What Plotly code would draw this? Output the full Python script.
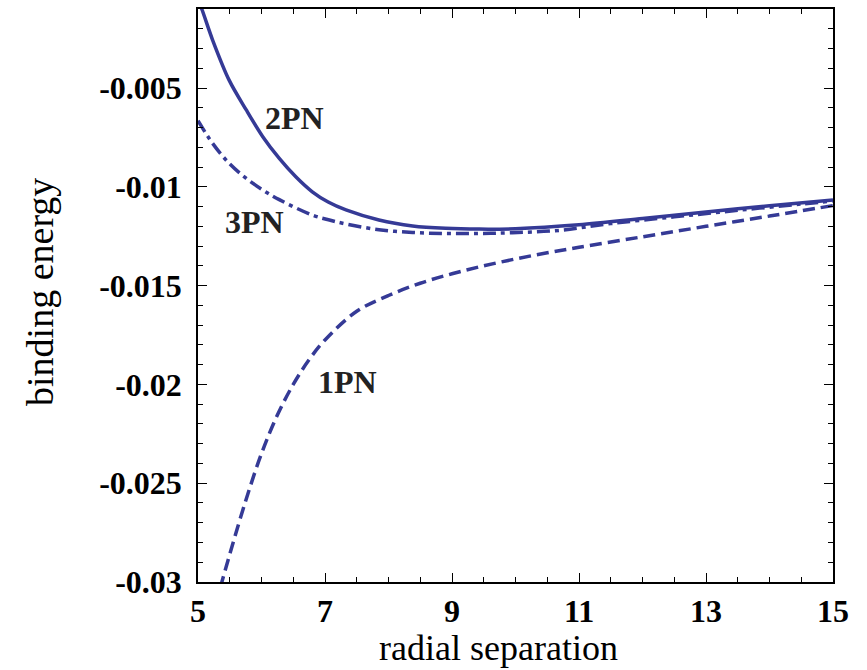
import plotly.graph_objects as go

# ---- data ----
x_2pn = [5.03, 5.06, 5.23, 5.49, 5.76, 6.02, 6.28, 6.54, 6.8, 7.05, 7.33, 7.85, 8.38, 8.9, 9.43, 10.0, 11.0, 12.0, 13.0, 14.0, 15.0]
y_2pn = [-0.0008, -0.00101, -0.00257, -0.0046, -0.00611, -0.00746, -0.00856, -0.00949, -0.01025, -0.01077, -0.01117,
         -0.01168, -0.01198, -0.01210, -0.01214, -0.01212, -0.01192, -0.01160, -0.01127, -0.01096, -0.01067]

x_3pn = [5.0, 5.23, 5.49, 5.76, 6.02, 6.28, 6.8, 7.07, 7.33, 7.85, 8.38, 8.9, 9.43, 9.95, 10.7, 11.5, 12.5, 13.5, 14.5, 15.0]
y_3pn = [-0.00665, -0.0078, -0.00881, -0.00957, -0.01016, -0.01065, -0.01143, -0.01168, -0.01188, -0.01217,
         -0.01231, -0.01236, -0.01236, -0.01232, -0.0122, -0.01186, -0.01152, -0.01119, -0.01087, -0.01072]

x_1pn = [5.35, 5.5, 5.75, 6.0, 6.25, 6.5, 6.75, 7.0, 7.5, 8.0, 8.5, 9.0, 9.5, 10.0, 10.5, 11.0, 12.0, 13.0, 14.0, 15.0]
y_1pn = [-0.0303, -0.0286, -0.0259, -0.0235, -0.02155, -0.0200, -0.01875, -0.01775, -0.0163, -0.0155,
         -0.01488, -0.0144, -0.0140, -0.01365, -0.01334, -0.01306, -0.01253, -0.01200, -0.01148, -0.01095]

labels = ["2PN", "3PN", "1PN"]
label_x = [6.52, 5.89, 7.35]
label_y = [-0.00652, -0.01178, -0.01988]

x_title = "radial separation"
y_title = "binding energy"

x_ticks = [5, 7, 9, 11, 13, 15]
y_ticks = [-0.005, -0.01, -0.015, -0.02, -0.025, -0.03]
y_tick_text = ["-0.005", "-0.01", "-0.015", "-0.02", "-0.025", "-0.03"]

COLOR = "#353a96"
SERIF = "Liberation Serif, Times New Roman, serif"

fig = go.Figure()
fig.add_trace(go.Scatter(x=x_2pn, y=y_2pn, mode="lines", line=dict(color=COLOR, width=3.5, shape="spline", smoothing=0.9)))
fig.add_trace(go.Scatter(x=x_3pn, y=y_3pn, mode="lines", line=dict(color=COLOR, width=3.5, shape="spline", smoothing=1.0,
                                                                    dash="13px,5px,4px,5px")))
fig.add_trace(go.Scatter(x=x_1pn, y=y_1pn, mode="lines", line=dict(color=COLOR, width=3.5, shape="spline", smoothing=1.0,
                                                                    dash="12px,6px")))

for t, lx, ly in zip(labels, label_x, label_y):
    fig.add_annotation(x=lx, y=ly, text="<b>%s</b>" % t, showarrow=False,
                       font=dict(family=SERIF, size=32, color="#222222"))

# axis titles placed as annotations relative to the plot area
fig.add_annotation(xref="paper", yref="paper", x=0.474, y=-0.115, text=x_title, showarrow=False,
                   xanchor="center", yanchor="middle", font=dict(family=SERIF, size=36, color="black"))
fig.add_annotation(xref="paper", yref="paper", x=-0.249, y=0.506, text=y_title, showarrow=False, textangle=-90,
                   xanchor="center", yanchor="middle", font=dict(family=SERIF, size=38, color="black"))

axis_common = dict(showline=True, linecolor="black", linewidth=1.5, mirror="allticks",
                   ticks="inside", tickcolor="black", tickwidth=1.3, ticklen=9,
                   showgrid=False, zeroline=False, automargin=False,
                   tickfont=dict(family=SERIF, size=32, color="black"))

fig.update_xaxes(range=[5, 15], tickvals=x_ticks, ticktext=["<b>%d</b>" % v for v in x_ticks],
                 minor=dict(dtick=0.5, tick0=0, ticks="inside", ticklen=5, tickcolor="black", tickwidth=1),
                 ticklabelstandoff=0, **axis_common)
fig.update_yaxes(range=[-0.03, -0.001], tickvals=y_ticks, ticktext=["<b>%s</b>" % s for s in y_tick_text],
                 minor=dict(dtick=0.001, tick0=0, ticks="inside", ticklen=5, tickcolor="black", tickwidth=1),
                 ticklabelstandoff=8, **axis_common)

fig.update_layout(width=867, height=670, margin=dict(l=198, r=34, t=9, b=88),
                  plot_bgcolor="white", paper_bgcolor="white", showlegend=False)

fig.write_html("out.html")
